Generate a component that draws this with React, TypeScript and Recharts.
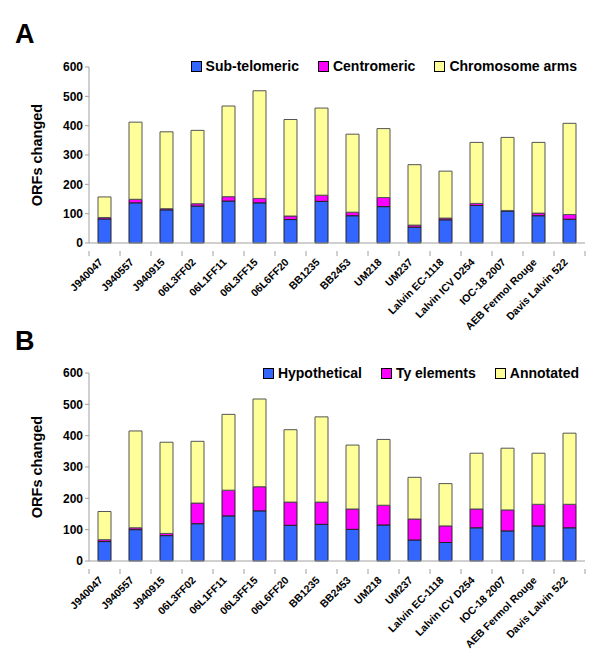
import { BarChart, Bar, XAxis, YAxis, Legend } from "recharts";

const strains = [
  "J940047", "J940557", "J940915", "06L3FF02", "06L1FF11", "06L3FF15", "06L6FF20", "BB1235",
  "BB2453", "UM218", "UM237", "Lalvin EC-1118", "Lalvin ICV D254", "IOC-18 2007", "AEB Fermol Rouge", "Davis Lalvin 522",
];

// panel A
const subTelomeric = [82, 137, 113, 126, 143, 137, 80, 142, 93, 124, 54, 79, 128, 109, 93, 81];
const centromeric = [5, 12, 4, 8, 15, 15, 12, 21, 12, 31, 7, 6, 7, 2, 9, 16];
const chromosomeArms = [70, 263, 262, 250, 309, 367, 329, 297, 266, 235, 206, 160, 208, 249, 241, 311];

// panel B
const hypothetical = [62, 100, 81, 119, 144, 160, 114, 117, 101, 115, 67, 59, 106, 96, 112, 106];
const tyElements = [6, 6, 7, 66, 82, 77, 74, 71, 65, 63, 67, 53, 60, 67, 69, 75];
const annotated = [90, 309, 291, 197, 242, 280, 231, 272, 204, 210, 133, 135, 178, 197, 163, 227];

const yTicks = [0, 100, 200, 300, 400, 500, 600];

const dataA = strains.map((name, i) => ({
  name,
  sub: subTelomeric[i],
  cen: centromeric[i],
  arms: chromosomeArms[i],
}));

const dataB = strains.map((name, i) => ({
  name,
  hyp: hypothetical[i],
  ty: tyElements[i],
  ann: annotated[i],
}));

const FONT = "Arial, 'Liberation Sans', sans-serif";
const BLUE = "#3366FF";
const MAGENTA = "#FF00FF";
const YELLOW = "#FFFF99";
const AXIS = "#a0a0a0";
const BAND = 31;

const XTick = (props: any) => {
  const { x, y, payload, index } = props;
  return (
    <g transform={`translate(${x},${y})`}>
      {index === 0 && <line x1={-BAND / 2} x2={-BAND / 2} y1={0} y2={5} stroke={AXIS} />}
      <line x1={BAND / 2} x2={BAND / 2} y1={0} y2={5} stroke={AXIS} />
      <text
        x={0}
        y={0}
        transform="translate(-3,10) rotate(-45)"
        textAnchor="end"
        dominantBaseline="middle"
        fontFamily={FONT}
        fontWeight="bold"
        fontSize={10.5}
        fill="#000"
      >
        {payload.value}
      </text>
    </g>
  );
};

const YLabel = (props: any) => {
  const { viewBox } = props;
  const cy = viewBox.y + viewBox.height / 2;
  return (
    <text
      x={38}
      y={cy}
      transform={`rotate(-90, 38, ${cy})`}
      textAnchor="middle"
      dominantBaseline="middle"
      fontFamily={FONT}
      fontWeight="bold"
      fontSize={14.5}
      fill="#000"
    >
      ORFs changed
    </text>
  );
};

const legendContent = (items: { label: string; color: string }[]) => () => (
  <div style={{ display: "flex", justifyContent: "flex-end", gap: 19, fontFamily: FONT, fontWeight: "bold", fontSize: 14 }}>
    {items.map((it) => (
      <div key={it.label} style={{ display: "flex", alignItems: "center" }}>
        <span style={{ width: 9, height: 9, background: it.color, border: "1px solid #000", marginRight: 4 }} />
        {it.label}
      </div>
    ))}
  </div>
);

const PanelLetter = ({ letter, top }: { letter: string; top: number }) => (
  <div style={{ position: "absolute", left: 15, top, fontFamily: FONT, fontWeight: "bold", fontSize: 27, lineHeight: "27px" }}>
    {letter}
  </div>
);

export default function App() {
  const tickStyle = { fontFamily: FONT, fontWeight: "bold" as const, fontSize: 12, fill: "#000" };
  return (
    <div style={{ position: "absolute", left: 0, top: 0, width: 600, height: 656, background: "#fff" }}>
      <PanelLetter letter="A" top={21} />
      <PanelLetter letter="B" top={328} />
      <div style={{ position: "absolute", left: 0, top: 0 }}>
        <BarChart width={600} height={345} data={dataA} margin={{ top: 51, right: 15, left: 0, bottom: 25 }} barSize={13}>
          <XAxis dataKey="name" interval={0} height={77} tick={<XTick />} tickLine={false} axisLine={{ stroke: AXIS }} />
          <YAxis
            width={89}
            domain={[0, 600]}
            ticks={yTicks}
            tick={tickStyle}
            tickLine={{ stroke: AXIS }}
            tickSize={4}
            axisLine={{ stroke: AXIS }}
            label={<YLabel />}
          />
          <Legend
            verticalAlign="top"
            wrapperStyle={{ top: 58, left: 0, width: 577 }}
            content={legendContent([
              { label: "Sub-telomeric", color: BLUE },
              { label: "Centromeric", color: MAGENTA },
              { label: "Chromosome arms", color: YELLOW },
            ])}
          />
          <Bar dataKey="sub" stackId="a" fill={BLUE} stroke="#222" strokeWidth={1} isAnimationActive={false} />
          <Bar dataKey="cen" stackId="a" fill={MAGENTA} stroke="#222" strokeWidth={1} isAnimationActive={false} />
          <Bar dataKey="arms" stackId="a" fill={YELLOW} stroke="#555" strokeWidth={1} isAnimationActive={false} />
        </BarChart>
      </div>
      <div style={{ position: "absolute", left: 0, top: 320 }}>
        <BarChart width={600} height={336} data={dataB} margin={{ top: 37, right: 15, left: 0, bottom: 0 }} barSize={13}>
          <XAxis dataKey="name" interval={0} height={95} tick={<XTick />} tickLine={false} axisLine={{ stroke: AXIS }} />
          <YAxis
            width={89}
            domain={[0, 600]}
            ticks={yTicks}
            tick={tickStyle}
            tickLine={{ stroke: AXIS }}
            tickSize={4}
            axisLine={{ stroke: AXIS }}
            label={<YLabel />}
          />
          <Legend
            verticalAlign="top"
            wrapperStyle={{ top: 45, left: 0, width: 579 }}
            content={legendContent([
              { label: "Hypothetical", color: BLUE },
              { label: "Ty elements", color: MAGENTA },
              { label: "Annotated", color: YELLOW },
            ])}
          />
          <Bar dataKey="hyp" stackId="b" fill={BLUE} stroke="#222" strokeWidth={1} isAnimationActive={false} />
          <Bar dataKey="ty" stackId="b" fill={MAGENTA} stroke="#222" strokeWidth={1} isAnimationActive={false} />
          <Bar dataKey="ann" stackId="b" fill={YELLOW} stroke="#555" strokeWidth={1} isAnimationActive={false} />
        </BarChart>
      </div>
    </div>
  );
}
